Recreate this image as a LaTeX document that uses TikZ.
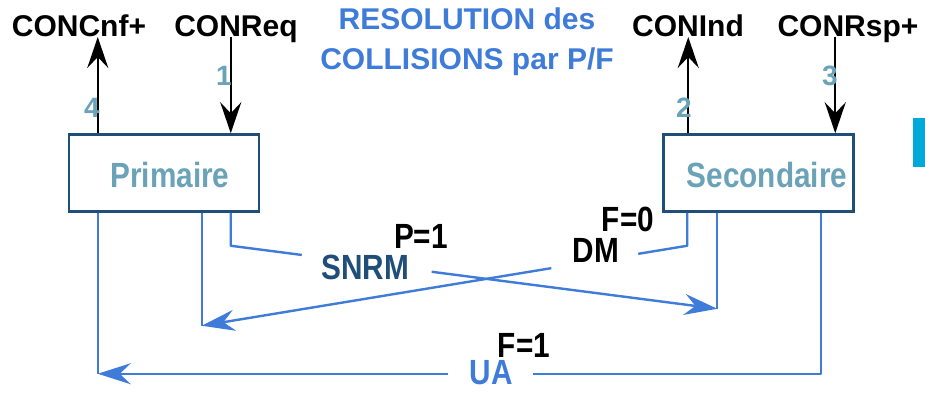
\documentclass[tikz,border=0pt]{standalone}
\usepackage{fontspec}
\setmainfont{Liberation Sans}
\newfontfamily\narfont{Liberation Sans}[FakeStretch=0.85]
\usetikzlibrary{arrows.meta,calc}
\definecolor{lineblue}{HTML}{3F7BD8}
\definecolor{boxblue}{HTML}{1F4E79}
\definecolor{numteal}{HTML}{6AA3B8}
\definecolor{barcyan}{HTML}{00A9D8}
\begin{document}
\begin{tikzpicture}[x=1pt,y=-1pt,
  box/.style={draw=boxblue,line width=2.5pt,minimum width=190pt,minimum height=77pt,inner sep=0},
  boxtext/.style={font=\narfont\bfseries\fontsize{35}{40}\selectfont,text=numteal,inner sep=0},
  toplabel/.style={font=\bfseries\fontsize{30}{36}\selectfont,anchor=base,inner sep=0},
  titletext/.style={font=\bfseries\fontsize{30}{40}\selectfont,text=lineblue,align=center,inner sep=0},
  num/.style={font=\bfseries\fontsize{28}{32}\selectfont,text=numteal,inner sep=0},
  msg/.style={font=\narfont\bfseries\fontsize{35}{40}\selectfont,inner sep=0},
  prim/.style={line width=2.3pt,-{Stealth[length=31pt,width=21pt,inset=11pt]}},
  flow/.style={draw=lineblue,line width=2.4pt,line join=round},
  flowarrow/.style={flow,-{Stealth[length=33pt,width=21pt,inset=11pt]}},
]
\useasboundingbox (0,0) rectangle (925,393);

% title
\node[titletext] (title) at (467,42) {RESOLUTION des\\COLLISIONS par P/F};

% stations
\node[box] (prim) at (164,173) {};
\node[box] (sec) at (758.5,173) {};
\node[boxtext] (primtxt) at (170,175) {Primaire};
\node[boxtext] (sectxt) at (767,175) {Secondaire};

% service primitives
\node[toplabel] (cnf) at (79,37) {CONCnf+};
\node[toplabel] (req) at (236,37) {CONReq};
\node[toplabel] (ind) at (688,37) {CONInd};
\node[toplabel] (rsp) at (848,37) {CONRsp+};

\coordinate (pA) at ([xshift=30pt]prim.north west);
\coordinate (pB) at ([xshift=163pt]prim.north west);
\coordinate (sA) at ([xshift=26pt]sec.north west);
\coordinate (sB) at ([xshift=173pt]sec.north west);
\draw[prim] (pA) -- (pA |- cnf.base);
\draw[prim] (pB |- req.base) -- (pB);
\draw[prim] (sA) -- (sA |- ind.base);
\draw[prim] (sB |- rsp.base) -- (sB);

\node[num] (n4) at (92,108) {4};
\node[num] (n1) at (224,76) {1};
\node[num] (n2) at (684,108) {2};
\node[num] (n3) at (830,76) {3};

% frames
\node[msg,text=boxblue] (snrm) at (365,267) {SNRM};
\node[msg] (p1) at (421,236) {P=1};
\node[msg] (dm) at (596,250) {DM};
\node[msg] (f0) at (628,219) {F=0};
\node[msg,text=lineblue] (ua) at (491,373) {UA};
\node[msg] (f1) at (524,345) {F=1};

% lifelines below the stations
\coordinate (pa) at ([xshift=30pt]prim.south west);
\coordinate (pb) at ([xshift=134pt]prim.south west);
\coordinate (pc) at ([xshift=163pt]prim.south west);
\coordinate (sa) at ([xshift=25pt]sec.south west);
\coordinate (sb) at ([xshift=55pt]sec.south west);
\coordinate (sc) at ([xshift=159pt]sec.south west);

% SNRM: primary -> secondary
\coordinate (snrmE) at ($(pc)+(0,33)$);
\coordinate (snrmT) at ($(sb)+(0,96)$);
\draw[flow] (pc) -- (snrmE) -- ($(snrmE)!0.146!(snrmT)$);
\draw[flowarrow] ($(snrmE)!0.413!(snrmT)$) -- (snrmT);
\draw[flow] (sb) -- (snrmT);

% DM: secondary -> primary
\coordinate (dmE) at ($(sa)+(0,33)$);
\coordinate (dmT) at ($(pb)+(0,113)$);
\draw[flow] (sa) -- (dmE) -- ($(dmE)!0.101!(dmT)$);
\draw[flowarrow] ($(dmE)!0.28!(dmT)$) -- (dmT);
\draw[flow] (pb) -- (dmT);

% UA: secondary -> primary
\coordinate (uaE) at ($(sc)+(0,161)$);
\coordinate (uaT) at ($(pa)+(0,161)$);
\draw[flow] (sc) -- (uaE) -- (533,0 |- uaE);
\draw[flowarrow] (448,0 |- uaT) -- (uaT);
\draw[flow] (pa) -- (uaT);

% edge marker
\fill[barcyan] (913,118) rectangle (925,167);
\end{tikzpicture}
\end{document}
